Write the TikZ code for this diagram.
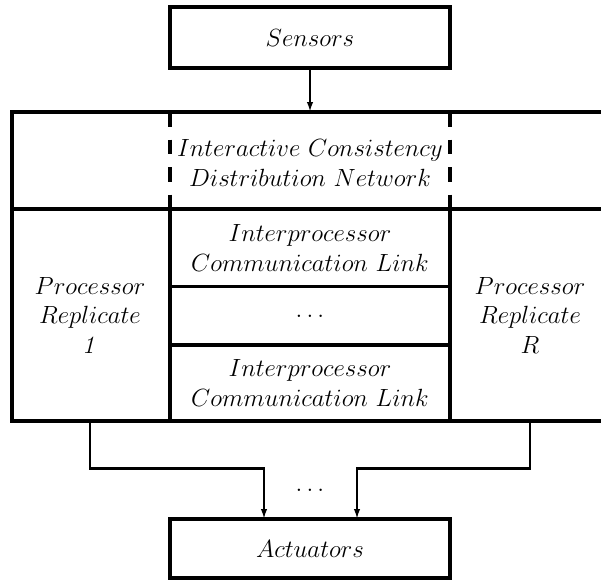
\documentclass[tikz,border=0pt]{standalone}
\usetikzlibrary{arrows.meta}
\begin{document}
\begin{tikzpicture}[x=1pt,y=-1pt,font=\fontsize{25.5}{29.5}\selectfont]
\tikzset{
  box/.style={draw,line width=4pt,minimum width=280pt,inner sep=0pt,outer sep=0pt},
  txt/.style={align=center,inner sep=0pt},
  grid/.style={line width=3.2pt},
  dashgrid/.style={line width=3.2pt,dash pattern=on 14.5pt off 13pt},
  conn/.style={line width=2.8pt,-{Latex[length=10pt,width=6.5pt]}},
}
\useasboundingbox (0,0) rectangle (601,581);

% input and output boxes
\node[box,minimum height=61pt] (sensors) at (310,37.5) {\(Sensors\)};
\node[box,minimum height=59pt] (act) at (310,548.5) {\(Actuators\)};

% outer frame of the replicated system (its right side runs off the page)
\node[draw,line width=4pt,inner sep=0pt,outer sep=0pt,minimum width=603pt,
      minimum height=309pt,anchor=north west] (frame) at (12,112) {};

% inner partitions
\draw[grid] (12,209) -- (615,209);
\draw[dashgrid] (170,112) -- (170,209);
\draw[dashgrid] (450,112) -- (450,209);
\draw[grid] (170,209) -- (170,421);
\draw[grid] (450,209) -- (450,421);
\draw[grid] (170,286.5) -- (450,286.5);
\draw[grid] (170,345) -- (450,345);

% cell texts
\node[txt] (icdn) at (310,163) {\(Interactive\ Consistency\)\\\(Distribution\ Network\)};
\node[txt] (link1) at (310,248) {\(Interprocessor\)\\\(Communication\ Link\)};
\node[txt] (ldots) at (310,316) {\(\ldots\)};
\node[txt] (link2) at (310,383) {\(Interprocessor\)\\\(Communication\ Link\)};
\node[txt] (p1) at (90,315) {\(Processor\)\\\(Replicate\)\\\(\mathit{1}\)};
\node[txt] (pR) at (530,315) {\(Processor\)\\\(Replicate\)\\\(R\)};
\node[txt] (odots) at (310,490) {\(\ldots\)};

% connectors
\coordinate (jl) at (264,468.5);
\coordinate (jr) at (357,468.5);
\draw[conn] (sensors.south) -- (sensors.south |- frame.north);
\draw[conn] (p1 |- frame.south) |- (jl) -- (jl |- act.north);
\draw[conn] (pR |- frame.south) |- (jr) -- (jr |- act.north);
\end{tikzpicture}
\end{document}
